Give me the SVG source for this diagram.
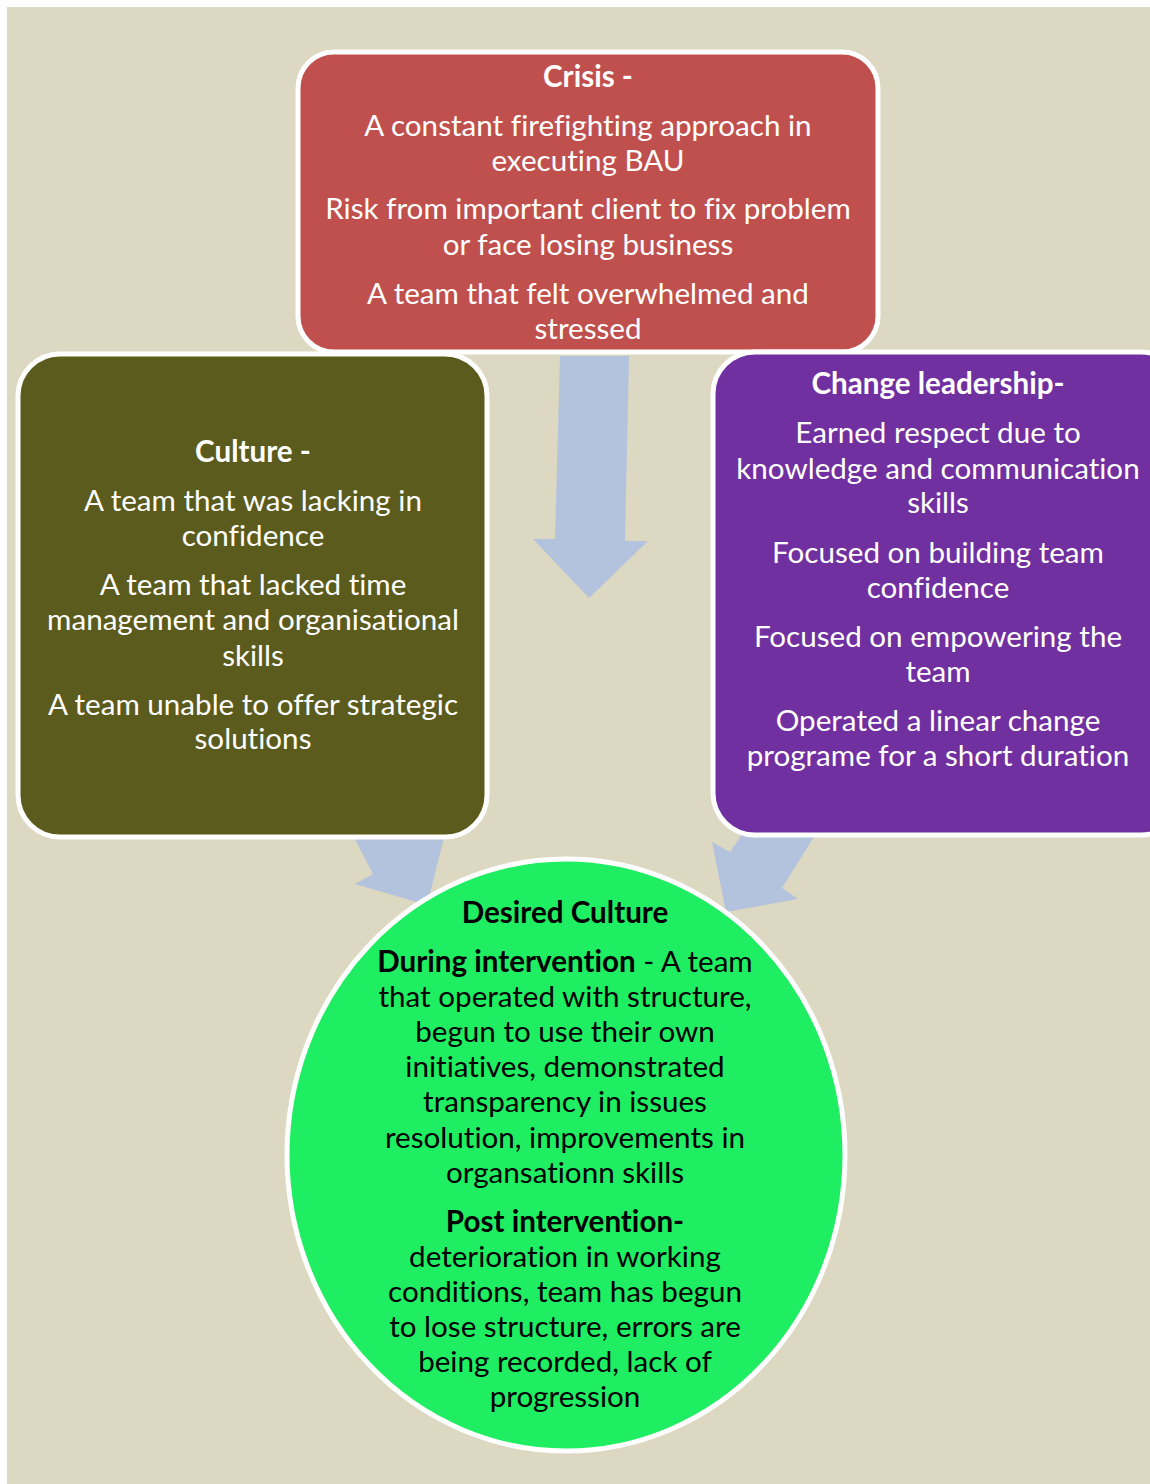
<svg xmlns="http://www.w3.org/2000/svg" width="1150" height="1484" viewBox="0 0 1150 1484">
<style>
.t{font-family:Lato,"Liberation Sans",sans-serif;font-size:29.6px;text-anchor:middle;font-variant-ligatures:none}
.w{fill:#ffffff}
.k{fill:#000000}
.b{font-weight:bold}
.box{stroke:#ffffff;stroke-width:5}
.arr{fill:#B3C3DD}
</style>
<rect x="0" y="0" width="1150" height="1484" fill="#ffffff"/>
<rect x="7" y="7" width="1143" height="1477" fill="#DDD8C2"/>
<g id="connectors">
<polygon class="arr" points="560,356 629,356 625,541 648,541 589,598 533,539 555,539"/>
<polygon class="arr" points="345,820 373,874 355,884 427,905 448,822"/>
<polygon class="arr" points="765,800 730,852 712,842 726,912 798,899 782,888 837,800"/>
</g>
<g id="crisis">
<rect class="box" x="298" y="52" width="580" height="300" rx="36" fill="#C0504D"/>
<text class="t w b" x="588" y="87">Crisis -</text>
<text class="t w" x="588" y="136">A constant firefighting approach in</text>
<text class="t w" x="588" y="171">executing BAU</text>
<text class="t w" x="588" y="219">Risk from important client to fix problem</text>
<text class="t w" x="588" y="255">or face losing business</text>
<text class="t w" x="588" y="304">A team that felt overwhelmed and</text>
<text class="t w" x="588" y="339">stressed</text>
</g>
<g id="culture">
<rect class="box" x="18" y="354" width="469" height="483" rx="42" fill="#5A5B1C"/>
<text class="t w b" x="253" y="462">Culture -</text>
<text class="t w" x="253" y="511">A team that was lacking in</text>
<text class="t w" x="253" y="546">confidence</text>
<text class="t w" x="253" y="595">A team that lacked time</text>
<text class="t w" x="253" y="630">management and organisational</text>
<text class="t w" x="253" y="666">skills</text>
<text class="t w" x="253" y="715">A team unable to offer strategic</text>
<text class="t w" x="253" y="749">solutions</text>
</g>
<g id="change-leadership">
<rect class="box" x="713" y="352" width="470" height="483" rx="42" fill="#7030A0"/>
<text class="t w b" x="938" y="394">Change leadership-</text>
<text class="t w" x="938" y="443">Earned respect due to</text>
<text class="t w" x="938" y="479">knowledge and communication</text>
<text class="t w" x="938" y="513">skills</text>
<text class="t w" x="938" y="563">Focused on building team</text>
<text class="t w" x="938" y="598">confidence</text>
<text class="t w" x="938" y="647">Focused on empowering the</text>
<text class="t w" x="938" y="682">team</text>
<text class="t w" x="938" y="731">Operated a linear change</text>
<text class="t w" x="938" y="766">programe for a short duration</text>
</g>
<g id="desired-culture">
<ellipse class="box" cx="566" cy="1155" rx="279" ry="296" fill="#1FEE62"/>
<text class="t k b" x="565" y="923">Desired Culture</text>
<text class="t k" x="565" y="972"><tspan class="b">During intervention</tspan> - A team</text>
<text class="t k" x="565" y="1007">that operated with structure,</text>
<text class="t k" x="565" y="1042">begun to use their own</text>
<text class="t k" x="565" y="1077">initiatives, demonstrated</text>
<text class="t k" x="565" y="1112">transparency in issues</text>
<text class="t k" x="565" y="1148">resolution, improvements in</text>
<text class="t k" x="565" y="1183">organsationn skills</text>
<text class="t k b" x="565" y="1232">Post intervention-</text>
<text class="t k" x="565" y="1267">deterioration in working</text>
<text class="t k" x="565" y="1302">conditions, team has begun</text>
<text class="t k" x="565" y="1337">to lose structure, errors are</text>
<text class="t k" x="565" y="1372">being recorded, lack of</text>
<text class="t k" x="565" y="1407">progression</text>
</g>
</svg>
